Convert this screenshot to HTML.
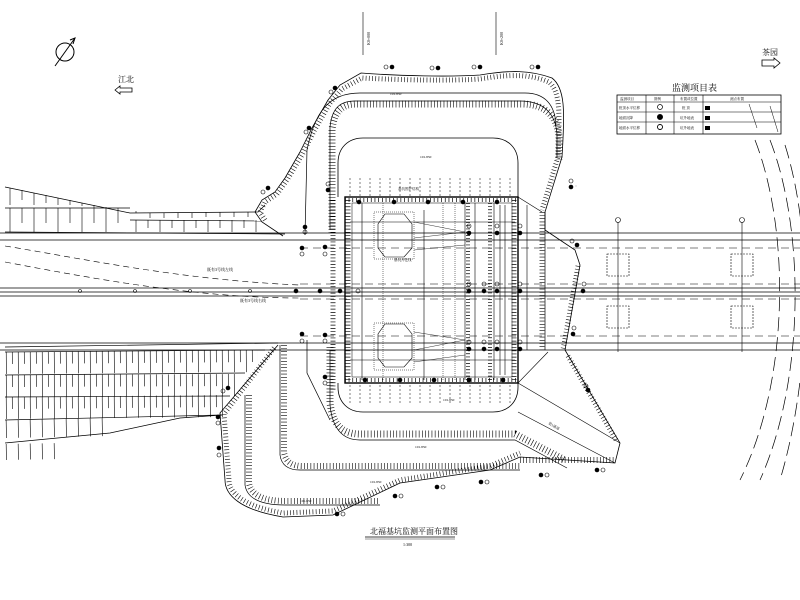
<!DOCTYPE html>
<html><head><meta charset="utf-8"><style>
html,body{margin:0;padding:0;background:#fff;}
svg{display:block;}
text{font-family:"Liberation Serif","Noto Serif CJK SC",serif;fill:#000;}
</style></head><body>
<svg width="800" height="600" viewBox="0 0 800 600" xmlns="http://www.w3.org/2000/svg" fill="none" stroke="#000">
<!-- north arrow -->
<circle cx="65" cy="52" r="9" stroke-width="1"/>
<line x1="55" y1="66" x2="75" y2="38" stroke-width="1"/>
<path d="M70,40 L75,38 L73,44" stroke-width="1"/>
<!-- direction arrows -->
<text x="118" y="82" font-size="8" stroke="none">江北</text>
<path d="M115,90 L120,86 L120,88 L132,88 L132,92 L120,92 L120,94 Z" stroke-width="0.8"/>
<text x="762" y="55" font-size="8" stroke="none">茶园</text>
<path d="M762,60 L774,60 L774,58 L780,63 L774,68 L774,66 L762,66 Z" stroke-width="0.8"/>
<!-- vertical reference lines top -->
<line x1="363" y1="12" x2="363" y2="55" stroke-width="0.6"/>
<line x1="496" y1="12" x2="496" y2="55" stroke-width="0.6"/>
<text x="0" y="0" font-size="4" stroke="none" transform="translate(370,45) rotate(-90)">K0+000</text>
<text x="0" y="0" font-size="4" stroke="none" transform="translate(503,45) rotate(-90)">K0+200</text>
<!-- table -->
<text x="672" y="91" font-size="9" stroke="none">监测项目表</text>
<rect x="617" y="95" width="164" height="39" stroke-width="0.8"/>
<line x1="617" y1="102" x2="781" y2="102" stroke-width="0.6"/>
<line x1="617" y1="112" x2="781" y2="112" stroke-width="0.6"/>
<line x1="617" y1="122" x2="781" y2="122" stroke-width="0.6"/>
<line x1="646" y1="95" x2="646" y2="134" stroke-width="0.6"/>
<line x1="674" y1="95" x2="674" y2="134" stroke-width="0.6"/>
<line x1="703" y1="95" x2="703" y2="134" stroke-width="0.6"/>
<line x1="749" y1="104" x2="757" y2="128" stroke-width="0.5"/>
<line x1="770" y1="106" x2="778" y2="132" stroke-width="0.5"/>
<g font-size="3.5" stroke="none"><text x="620" y="100">监测项目</text><text x="654" y="100">图例</text><text x="680" y="100">布置或位置</text><text x="730" y="100">测点布置</text>
<text x="619" y="109">桩顶水平位移</text><text x="682" y="109">桩 顶</text>
<text x="619" y="119">地面沉降</text><text x="680" y="119">坑外地表</text>
<text x="619" y="129">地面水平位移</text><text x="680" y="129">坑外地表</text></g>
<g fill="#000" stroke="none"><rect x="705" y="106" width="5" height="4"/><rect x="705" y="116" width="5" height="4"/><rect x="705" y="126" width="5" height="4"/></g>
<circle cx="660" cy="107" r="2.5" stroke-width="0.7"/><circle cx="660" cy="117" r="2.5" fill="#000"/><circle cx="660" cy="127" r="2.5" stroke-width="0.9"/>

<!-- left hatched bands top -->
<g stroke-width="0.7">
<polyline points="5,187 130,213 258,212 265,205"/>
<line x1="5" y1="208" x2="130" y2="208"/>
<polyline points="130,220 262,221"/>
<line x1="5" y1="232" x2="285" y2="234"/>
</g>
<g stroke-width="0.6">
<path d="M10,188 v17 M22,190 v10 M34,193 v12 M46,195 v8 M58,198 v7 M70,200 v5 M82,203 v3 M94,205 v3 M106,207 v1"/>
<path d="M10,208 v24 M22,208 v15 M34,208 v24 M46,208 v15 M58,208 v24 M70,208 v15 M82,208 v24 M94,208 v15 M106,208 v24 M118,208 v15"/>
<path d="M136,220 v12 M148,220 v8 M160,220 v12 M172,220 v8 M184,220 v12 M196,220 v8 M208,220 v12 M220,220 v8 M232,220 v12 M244,220 v8 M256,220 v12"/>
<path d="M136,213 v-2 M150,213 v5 M164,213 v5 M178,213 v5 M192,213 v5 M206,212 v5 M220,212 v5 M234,212 v5 M248,212 v5"/>
</g>
<!-- left hatched bands bottom -->
<g stroke-width="0.7">
<polyline points="5,347 278,343"/>
<polyline points="5,352 265,350"/>
<polyline points="5,375 245,373"/>
<polyline points="5,397 230,396"/>
<polyline points="5,420 222,415"/>
<polyline points="5,443 110,433 180,418 222,415"/>
</g>
<g stroke-width="0.6">
<line x1="6" y1="363" x2="258" y2="361" stroke-width="22" stroke-dasharray="0.6 11.4"/>
<line x1="12" y1="358" x2="258" y2="356" stroke-width="12" stroke-dasharray="0.6 11.4"/>
<line x1="6" y1="386" x2="240" y2="385" stroke-width="22" stroke-dasharray="0.6 11.4"/>
<line x1="12" y1="381" x2="240" y2="380" stroke-width="12" stroke-dasharray="0.6 11.4"/>
<line x1="6" y1="408" x2="226" y2="406" stroke-width="22" stroke-dasharray="0.6 11.4"/>
<line x1="12" y1="403" x2="226" y2="401" stroke-width="12" stroke-dasharray="0.6 11.4"/>
<line x1="6" y1="429" x2="110" y2="427" stroke-width="18" stroke-dasharray="0.6 11.4"/>
<line x1="6" y1="452" x2="60" y2="451" stroke-width="16" stroke-dasharray="0.6 11.4"/>
</g>
<!-- dashed curves left -->
<path d="M5,246 C80,258 180,280 300,285" stroke-width="0.6" stroke-dasharray="6 4"/>
<path d="M5,262 C100,280 200,298 300,298" stroke-width="0.6" stroke-dasharray="6 4"/>
<text x="207" y="271" font-size="4" stroke="none">既有3号线左线</text>
<text x="240" y="302" font-size="4" stroke="none">既有3号线右线</text>

<!-- roads -->
<g stroke-width="0.8">
<line x1="0" y1="233" x2="800" y2="233"/><line x1="0" y1="240" x2="800" y2="240"/>
<line x1="0" y1="288" x2="800" y2="288"/><line x1="0" y1="292" x2="800" y2="292"/><line x1="0" y1="296" x2="800" y2="296"/>
<line x1="0" y1="343" x2="800" y2="343"/><line x1="0" y1="350" x2="800" y2="350"/>
</g>
<g stroke-width="0.6" stroke-dasharray="8 5">
<line x1="300" y1="284" x2="800" y2="284"/><line x1="300" y1="299" x2="800" y2="299"/>
<line x1="300" y1="248" x2="800" y2="248"/><line x1="300" y1="336" x2="800" y2="336"/>
</g>
<!-- right curves -->
<g stroke-width="0.7" stroke-dasharray="14 6">
<path d="M755,140 C790,230 790,380 740,480"/>
<path d="M770,140 C805,230 805,380 760,480"/>
<path d="M785,145 C815,240 810,380 780,480"/>
</g>
<!-- right boxes -->
<g stroke-width="0.6">
<rect x="607" y="254" width="22" height="22" stroke-dasharray="2 1"/>
<rect x="607" y="306" width="22" height="22" stroke-dasharray="2 1"/>
<rect x="731" y="254" width="22" height="22" stroke-dasharray="2 1"/>
<rect x="731" y="306" width="22" height="22" stroke-dasharray="2 1"/>
<circle cx="618" cy="220" r="2.5"/><circle cx="742" cy="220" r="2.5"/>
<line x1="618" y1="222" x2="618" y2="352"/><line x1="742" y1="222" x2="742" y2="352"/>
</g>

<!-- outer slope boundary -->
<path id="outer" d="M283,236 L262,222 L255,212 L262,200 L275,192 L285,178 L300,152 L312,128 L328,100 L340,85 L361,73 C400,76 450,77 480,75 C510,70 530,70 552,78 C565,88 565,110 562,157 L545,212 L545,230 L575,250 L580,265 L565,350 L620,443 L615,463 L520,457 L490,470 L400,483 L333,515 L283,517 C240,510 225,495 225,480 L220,413 L278,345" stroke-width="0.8"/>
<g stroke-width="5" stroke-dasharray="0.6 2.6">
<path d="M265,220 L260,212 L265,202 L277,194 L287,180 L302,155 L314,131 L330,103 L342,89 L362,78 C400,80 450,81 480,79 C510,74 530,74 549,82 C560,92 560,110 558,157 L542,210"/>
<path d="M578,266 L563,350 M568,356 L616,440"/>
<path d="M274,348 L224,414 L229,480 C229,492 242,506 283,513 L333,511 L400,480 L490,466 L520,453"/>
</g>
<!-- berm line 1 -->
<path d="M305,235 L307,150 C315,110 330,93 360,93 L525,93 C545,93 555,105 556,125" stroke-width="0.7"/>
<path d="M307,340 L307,373 L330,420" stroke-width="0.7"/>
<!-- hatched band 2 -->
<path d="M330,230 L330,127 C332,108 340,101 355,101 L520,101 C545,101 556,115 557,135 L557,157" stroke-width="0.7"/>
<path d="M330,230 L330,127 C332,108 340,101 355,101 L520,101 C545,101 556,115 557,135 L557,157" stroke-width="7" stroke-dasharray="0.6 2.6" transform="translate(2,3)"/>
<path d="M330,350 L330,405 C332,425 340,440 360,440 L515,440 L567,468" stroke-width="0.7"/>
<path d="M330,350 L330,405 C332,425 340,437 360,437 L515,437 L565,463" stroke-width="7" stroke-dasharray="0.6 2.6" transform="translate(0,-3)"/>
<!-- right inner band -->
<line x1="545" y1="212" x2="545" y2="350" stroke-width="0.7"/>
<line x1="542" y1="212" x2="542" y2="350" stroke-width="5" stroke-dasharray="0.6 2.6"/>
<line x1="527" y1="205" x2="527" y2="350" stroke-width="0.6"/>
<line x1="518" y1="197" x2="542" y2="212" stroke-width="0.6"/>
<!-- right-bottom triangle -->
<path d="M518,383 L620,443 M518,412 L615,463" stroke-width="0.6"/>
<path d="M548,352 L518,383" stroke-width="0.6"/>
<line x1="520" y1="460" x2="615" y2="460" stroke-width="6" stroke-dasharray="0.6 2.6"/>
<!-- band 3 -->
<path d="M280,345 L280,455 Q282,470 300,470 L520,470" stroke-width="0.7"/>
<path d="M284,345 L284,452 Q286,466 302,466 L520,466" stroke-width="6" stroke-dasharray="0.6 2.6"/>
<!-- band 4 -->
<path d="M245,395 L245,485 Q248,505 285,505 L380,505" stroke-width="0.7"/>
<path d="M249,395 L249,483 Q252,501 286,501 L380,501" stroke-width="6" stroke-dasharray="0.6 2.6"/>
<!-- rounded inner contour -->
<path d="M338,197 L338,163 C338,148 348,138 363,138 L493,138 C508,138 518,148 518,163 L518,197" stroke-width="0.8"/>
<path d="M338,383 L338,387 C338,402 348,412 363,412 L493,412 C508,412 518,402 518,387 L518,383" stroke-width="0.8"/>
<g stroke-width="0.5" stroke-dasharray="2 2">
<path d="M350,178 v18 M360,178 v18 M370,178 v18 M380,178 v18 M390,178 v18 M400,178 v18 M410,178 v18 M420,178 v18 M430,178 v18 M440,178 v18 M450,178 v18 M460,178 v18 M470,178 v18 M480,178 v18 M490,178 v18 M500,178 v18 M510,178 v18"/>
<path d="M350,385 v18 M360,385 v18 M370,385 v18 M380,385 v18 M390,385 v18 M400,385 v18 M410,385 v18 M420,385 v18 M430,385 v18 M440,385 v18 M450,385 v18 M460,385 v18 M470,385 v18 M480,385 v18 M490,385 v18 M500,385 v18 M510,385 v18"/>
</g>
<!-- pit -->
<rect x="345" y="197" width="173" height="186" stroke-width="1.4"/>
<rect x="352" y="203" width="160" height="174" stroke-width="0.5"/>
<line x1="345" y1="200" x2="518" y2="200" stroke-width="4" stroke-dasharray="0.7 3"/>
<line x1="345" y1="380" x2="518" y2="380" stroke-width="4" stroke-dasharray="0.7 3"/>
<line x1="348" y1="200" x2="348" y2="380" stroke-width="5" stroke-dasharray="0.7 2.5"/>
<line x1="333" y1="200" x2="333" y2="390" stroke-width="5" stroke-dasharray="0.7 2.5"/>
<line x1="514" y1="200" x2="514" y2="380" stroke-width="5" stroke-dasharray="0.7 2.5"/>
<g stroke-width="0.6">
<line x1="362" y1="203" x2="362" y2="380"/><line x1="424" y1="210" x2="424" y2="380"/><line x1="465" y1="203" x2="465" y2="380"/><line x1="475" y1="203" x2="475" y2="380"/>
<line x1="494" y1="203" x2="494" y2="380"/><line x1="500" y1="205" x2="500" y2="375"/><line x1="505" y1="205" x2="505" y2="375"/>
<line x1="350" y1="222" x2="515" y2="222"/><line x1="350" y1="360" x2="515" y2="360"/>
</g>
<line x1="468" y1="203" x2="468" y2="380" stroke-width="4" stroke-dasharray="0.7 2.5"/>
<line x1="490" y1="203" x2="490" y2="380" stroke-width="4" stroke-dasharray="0.7 2.5"/>
<g stroke-width="0.5" stroke-dasharray="1 1">
<rect x="374" y="212" width="40" height="47"/><rect x="374" y="323" width="40" height="47"/>
<line x1="383" y1="203" x2="383" y2="380"/><line x1="443" y1="203" x2="443" y2="380"/><line x1="455" y1="203" x2="455" y2="380"/>
</g>
<polygon points="385,214 404,214 412,224 412,248 404,257 385,257 378,248 378,224" stroke-width="0.6"/>
<polygon points="385,324 404,324 412,334 412,358 404,367 385,367 378,358 378,334" stroke-width="0.6"/>
<g stroke-width="0.4">
<line x1="414" y1="222" x2="465" y2="232"/><line x1="414" y1="238" x2="465" y2="232"/><line x1="414" y1="250" x2="465" y2="245"/>
<line x1="414" y1="332" x2="465" y2="340"/><line x1="414" y1="350" x2="465" y2="340"/><line x1="414" y1="362" x2="465" y2="355"/>
</g>
<text x="394" y="261" font-size="3.5" stroke="none">基坑开挖线</text>
<text x="398" y="190" font-size="3.5" stroke="none">基坑围护结构</text>
<!-- monitoring points -->
<g stroke-width="0.6">
<circle cx="359" cy="202" r="2" fill="#000"/><circle cx="394" cy="202" r="2" fill="#000"/><circle cx="428" cy="202" r="2" fill="#000"/><circle cx="463" cy="202" r="2" fill="#000"/><circle cx="497" cy="202" r="2" fill="#000"/>
<circle cx="365" cy="380" r="2" fill="#000"/><circle cx="400" cy="380" r="2" fill="#000"/><circle cx="434" cy="380" r="2" fill="#000"/><circle cx="469" cy="380" r="2" fill="#000"/><circle cx="503" cy="380" r="2" fill="#000"/>
<circle cx="469" cy="226" r="2"/><circle cx="469" cy="233" r="2" fill="#000"/><circle cx="497" cy="226" r="2"/><circle cx="497" cy="233" r="2" fill="#000"/><circle cx="520" cy="226" r="2"/><circle cx="520" cy="233" r="2" fill="#000"/>
<circle cx="469" cy="284" r="2"/><circle cx="469" cy="291" r="2" fill="#000"/><circle cx="484" cy="284" r="2"/><circle cx="484" cy="291" r="2" fill="#000"/><circle cx="497" cy="284" r="2"/><circle cx="497" cy="291" r="2" fill="#000"/><circle cx="520" cy="284" r="2"/><circle cx="520" cy="291" r="2" fill="#000"/>
<circle cx="469" cy="342" r="2"/><circle cx="469" cy="349" r="2" fill="#000"/><circle cx="484" cy="342" r="2"/><circle cx="484" cy="349" r="2" fill="#000"/><circle cx="497" cy="342" r="2"/><circle cx="497" cy="349" r="2" fill="#000"/><circle cx="520" cy="342" r="2"/><circle cx="520" cy="349" r="2" fill="#000"/>
<circle cx="302" cy="248" r="2" fill="#000"/><circle cx="302" cy="254" r="2"/><circle cx="325" cy="247" r="2" fill="#000"/><circle cx="325" cy="254" r="2"/>
<circle cx="302" cy="334" r="2" fill="#000"/><circle cx="302" cy="341" r="2"/><circle cx="325" cy="335" r="2" fill="#000"/><circle cx="325" cy="341" r="2"/>
<circle cx="296" cy="291" r="2" fill="#000"/><circle cx="320" cy="291" r="2" fill="#000"/><circle cx="340" cy="291" r="2" fill="#000"/><circle cx="358" cy="291" r="2"/>
<circle cx="325" cy="377" r="2" fill="#000"/><circle cx="325" cy="383" r="2"/><circle cx="328" cy="184" r="2"/><circle cx="328" cy="190" r="2" fill="#000"/>
<circle cx="306" cy="132" r="2"/><circle cx="309" cy="128" r="2" fill="#000"/>
<circle cx="305" cy="227" r="2" fill="#000"/><circle cx="305" cy="232" r="2"/>
<circle cx="263" cy="192" r="2"/><circle cx="268" cy="188" r="2" fill="#000"/>
<circle cx="268" cy="190" r="0.1"/>
<circle cx="223" cy="391" r="2"/><circle cx="228" cy="388" r="2" fill="#000"/>
<circle cx="219" cy="448" r="2" fill="#000"/><circle cx="219" cy="455" r="2"/>
<circle cx="218" cy="417" r="2" fill="#000"/><circle cx="218" cy="423" r="2"/>
<circle cx="571" cy="181" r="2"/><circle cx="571" cy="187" r="2" fill="#000"/>
<circle cx="572" cy="241" r="2"/><circle cx="577" cy="245" r="2" fill="#000"/>
<circle cx="584" cy="284" r="2"/><circle cx="583" cy="291" r="2" fill="#000"/>
<circle cx="574" cy="328" r="2"/><circle cx="573" cy="334" r="2" fill="#000"/>
<circle cx="576" cy="186" r="0.1"/>
<circle cx="586" cy="386" r="2"/><circle cx="588" cy="390" r="2" fill="#000"/>
<circle cx="597" cy="470" r="2" fill="#000"/><circle cx="603" cy="470" r="2"/>
<circle cx="541" cy="475" r="2" fill="#000"/><circle cx="547" cy="475" r="2"/>
<circle cx="481" cy="482" r="2" fill="#000"/><circle cx="487" cy="482" r="2"/>
<circle cx="437" cy="487" r="2" fill="#000"/><circle cx="443" cy="487" r="2"/>
<circle cx="395" cy="496" r="2" fill="#000"/><circle cx="401" cy="496" r="2"/>
<circle cx="337" cy="514" r="2" fill="#000"/><circle cx="343" cy="514" r="2"/>
<circle cx="338" cy="514" r="0.1"/>
<circle cx="287" cy="515" r="0.1"/>
<circle cx="386" cy="67" r="2"/><circle cx="392" cy="67" r="2" fill="#000"/>
<circle cx="432" cy="68" r="2"/><circle cx="438" cy="68" r="2" fill="#000"/>
<circle cx="474" cy="67" r="2"/><circle cx="480" cy="67" r="2" fill="#000"/>
<circle cx="532" cy="67" r="2"/><circle cx="538" cy="67" r="2" fill="#000"/>
<circle cx="331" cy="92" r="2"/><circle cx="335" cy="88" r="2" fill="#000"/>
<circle cx="80" cy="291" r="1.5"/><circle cx="135" cy="291" r="1.5"/><circle cx="190" cy="291" r="1.5"/><circle cx="250" cy="291" r="1.5"/>
</g>
<g font-size="3.5" stroke="none">
<text x="420" y="158">101.850</text><text x="443" y="401">101.850</text><text x="415" y="448">101.850</text><text x="370" y="483">101.850</text><text x="300" y="502">101.850</text><text x="548" y="424" transform="rotate(30,548,424)">第1通道</text><text x="390" y="95">101.850</text>
</g>
<!-- title -->
<text x="370" y="534" font-size="8" stroke="none">北福基坑监测平面布置图</text>
<line x1="365" y1="537" x2="455" y2="537" stroke-width="0.8"/>
<line x1="365" y1="539" x2="455" y2="539" stroke-width="0.4"/>
<text x="403" y="546" font-size="4" stroke="none">1:300</text>
</svg>
</body></html>
